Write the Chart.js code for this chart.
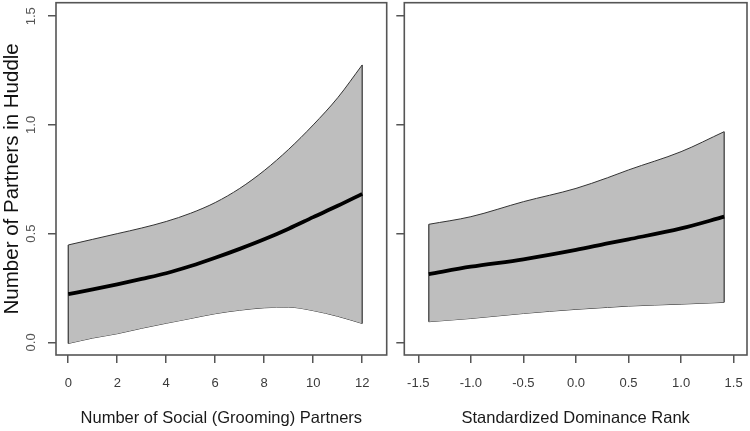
<!DOCTYPE html>
<html>
<head>
<meta charset="utf-8">
<script src="https://cdn.jsdelivr.net/npm/chart.js@4/dist/chart.umd.min.js"></script>
<style>
  html, body { margin: 0; padding: 0; background: #fff; }
  #wrap { position: relative; width: 750px; height: 431px; }
  #c1 { position: absolute; left: 0; top: 0; }
  #c2 { position: absolute; left: 395px; top: 0; }
</style>
</head>
<body>
<div id="wrap">
  <canvas id="c1" width="395" height="431"></canvas>
  <canvas id="c2" width="355" height="431"></canvas>
</div>
<script>
// ---- Data ----
const groomX     = [0, 1, 2, 3, 4, 5, 6, 7, 8, 9, 10, 11, 12];
const groomMean  = [0.222, 0.244, 0.267, 0.292, 0.318, 0.351, 0.389, 0.430, 0.474, 0.523, 0.576, 0.628, 0.683];
const groomUpper = [0.448, 0.474, 0.500, 0.526, 0.556, 0.594, 0.643, 0.708, 0.790, 0.888, 1.000, 1.125, 1.276];
const groomLower = [-0.005, 0.020, 0.040, 0.065, 0.088, 0.110, 0.132, 0.148, 0.159, 0.162, 0.146, 0.120, 0.087];

const rankX     = [-1.40, -1.0, -0.5, 0.0, 0.3, 0.5, 1.0, 1.41];
const rankMean  = [0.314, 0.348, 0.382, 0.425, 0.455, 0.474, 0.524, 0.578];
const rankUpper = [0.543, 0.578, 0.647, 0.708, 0.757, 0.793, 0.877, 0.969];
const rankLower = [0.095, 0.110, 0.133, 0.152, 0.161, 0.167, 0.176, 0.184];

const yTicks      = [0, 0.5, 1.0, 1.5];
const groomXTicks = [0, 2, 4, 6, 8, 10, 12];
const rankXTicks  = [-1.5, -1.0, -0.5, 0.0, 0.5, 1.0, 1.5];

const yTitle      = 'Number of Partners in Huddle';
const groomXTitle = 'Number of Social (Grooming) Partners';
const rankXTitle  = 'Standardized Dominance Rank';

// ---- helpers ----
const FONT = "'Liberation Sans', Arial, sans-serif";
const AXIS_COLOR = '#555555';
const EDGE_COLOR = '#333333';

function pts(xs, ys) { return xs.map((x, i) => ({x: x, y: ys[i]})); }
function edge(xs, up, lo, i) { return [{x: xs[i], y: lo[i]}, {x: xs[i], y: up[i]}]; }

const boxPlugin = {
  id: 'box',
  afterDraw(chart) {
    const a = chart.chartArea, ctx = chart.ctx;
    ctx.save();
    ctx.strokeStyle = AXIS_COLOR;
    ctx.lineWidth = 1.6;
    ctx.strokeRect(a.left, a.top, a.right - a.left, a.bottom - a.top);
    ctx.restore();
  }
};

function lineDs(data, color, width, order, extra) {
  return Object.assign({
    data: data,
    showLine: true,
    borderColor: color,
    borderWidth: width,
    pointRadius: 0,
    cubicInterpolationMode: 'monotone',
    fill: false,
    order: order
  }, extra || {});
}

function makeChart(canvasId, xs, mean, up, lo, xTicks, xMin, xMax, xTitle, showY, yWidth, padRight) {
  return new Chart(document.getElementById(canvasId), {
    type: 'scatter',
    data: {
      datasets: [
        lineDs(pts(xs, mean), '#000000', 3.8, 0),
        lineDs(pts(xs, up), EDGE_COLOR, 1, 2, { fill: '+1', backgroundColor: '#bebebe' }),
        lineDs(pts(xs, lo), EDGE_COLOR, 1, 2),
        lineDs(edge(xs, up, lo, 0), EDGE_COLOR, 1.2, 1, { cubicInterpolationMode: 'default', tension: 0 }),
        lineDs(edge(xs, up, lo, xs.length - 1), EDGE_COLOR, 1.2, 1, { cubicInterpolationMode: 'default', tension: 0 })
      ]
    },
    options: {
      responsive: false,
      animation: false,
      events: [],
      layout: { padding: { left: 0, right: padRight, top: 2.7, bottom: 0 } },
      plugins: { legend: { display: false }, tooltip: { enabled: false } },
      scales: {
        x: {
          type: 'linear',
          min: xMin, max: xMax,
          afterBuildTicks(scale) { scale.ticks = xTicks.map(v => ({value: v})); },
          afterFit(scale) {
            scale.height = 76;
            scale.paddingLeft = 0; scale.paddingRight = 0;
            scale.paddingTop = 0; scale.paddingBottom = 0;
          },
          grid: { display: true, drawOnChartArea: false, drawTicks: true, tickLength: 8, color: AXIS_COLOR, lineWidth: 1.5 },
          border: { display: false },
          ticks: {
            autoSkip: false, maxRotation: 0, minRotation: 0,
            padding: 13,
            color: '#3a3a3a',
            font: { family: FONT, size: 13 },
            callback: (v) => (xMax > 5) ? String(v) : Number(v).toFixed(1)
          },
          title: {
            display: true, text: xTitle, color: '#1a1a1a',
            font: { family: FONT, size: 16.5 },
            padding: { top: 0, bottom: 3 }
          }
        },
        y: {
          type: 'linear',
          min: -0.058, max: 1.562,
          afterBuildTicks(scale) { scale.ticks = yTicks.map(v => ({value: v})); },
          afterFit(scale) {
            scale.width = yWidth;
            scale.paddingLeft = 0; scale.paddingRight = 0;
            scale.paddingTop = 0; scale.paddingBottom = 0;
          },
          grid: { display: true, drawOnChartArea: false, drawTicks: true, tickLength: 8, color: AXIS_COLOR, lineWidth: 1.5 },
          border: { display: false },
          ticks: {
            display: showY,
            minRotation: 90, maxRotation: 90,
            crossAlign: 'center',
            padding: 7.5,
            color: '#555555',
            font: { family: FONT, size: 13 },
            callback: (v) => Number(v).toFixed(1)
          },
          title: {
            display: showY, text: yTitle, color: '#111111',
            font: { family: FONT, size: 20.5 },
            padding: { top: 0, bottom: 0 }
          }
        }
      }
    },
    plugins: [boxPlugin]
  });
}

makeChart('c1', groomX, groomMean, groomUpper, groomLower, groomXTicks, -0.5, 13.0, groomXTitle, true, 56, 8.3);
makeChart('c2', rankX, rankMean, rankUpper, rankLower, rankXTicks, -1.633, 1.627, rankXTitle, false, 9.3, 3);
</script>
</body>
</html>
